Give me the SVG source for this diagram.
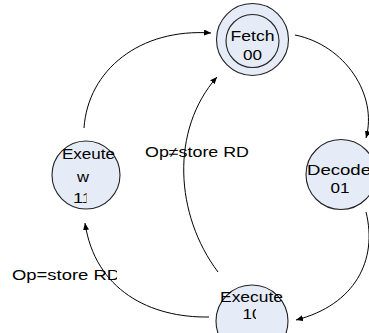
<svg xmlns="http://www.w3.org/2000/svg" width="369" height="333" viewBox="0 0 369 333">
  <style>
    .state { fill: #e6ecf7; stroke: #222; stroke-width: 1.1; }
    .ring { fill: none; stroke: #222; stroke-width: 1.1; }
    .lbl { font-family: "Liberation Sans", Arial, sans-serif; font-size: 14px; fill: #000; }
    .edge { fill: none; stroke: #000; stroke-width: 1; }
  </style>
  <defs>
    <marker id="arrow" markerUnits="userSpaceOnUse" markerWidth="8" markerHeight="6" refX="7" refY="3" orient="auto">
      <path d="M0,0 L7,3 L0,6 z" fill="#000"/>
    </marker>
    <clipPath id="clipW"><rect x="0" y="185" width="86.5" height="25"/></clipPath>
    <clipPath id="clipX"><rect x="200" y="300" width="56" height="30"/></clipPath>
    <clipPath id="clipEq"><rect x="0" y="260" width="117" height="30"/></clipPath>
  </defs>

  <g id="connectors">
    <path class="edge" d="M84,128 C88,70 140,28 211,33" marker-end="url(#arrow)"/>
    <path class="edge" d="M295,35 C345,45 378,95 366,138" marker-end="url(#arrow)"/>
    <path class="edge" d="M366,212 C378,260 355,305 296,320" marker-end="url(#arrow)"/>
    <path class="edge" d="M209,317 C150,318 95,290 85,223" marker-end="url(#arrow)"/>
    <path class="edge" d="M218,272 C175,215 170,130 217,77" marker-end="url(#arrow)"/>
  </g>

  <g id="fetch">
    <circle class="state" cx="252.5" cy="39.5" r="36"/>
    <circle class="ring" cx="252.5" cy="41" r="26.5"/>
    <text class="lbl" x="230.5" y="41" textLength="44" lengthAdjust="spacingAndGlyphs">Fetch</text>
    <text class="lbl" x="243" y="60" textLength="19" lengthAdjust="spacingAndGlyphs">00</text>
  </g>

  <g id="decode">
    <circle class="state" cx="341" cy="174.5" r="35"/>
    <text class="lbl" x="307" y="175" textLength="64" lengthAdjust="spacingAndGlyphs">Decode</text>
    <text class="lbl" x="330.5" y="193" textLength="19" lengthAdjust="spacingAndGlyphs">01</text>
  </g>

  <g id="execute">
    <circle class="state" cx="252" cy="321" r="36"/>
    <text class="lbl" x="220" y="302" textLength="63" lengthAdjust="spacingAndGlyphs">Execute</text>
    <g clip-path="url(#clipX)">
      <text class="lbl" x="242.5" y="319" textLength="19" lengthAdjust="spacingAndGlyphs">10</text>
    </g>
  </g>

  <g id="execute-w">
    <circle class="state" cx="86" cy="175" r="34"/>
    <text class="lbl" x="62" y="159" textLength="53" lengthAdjust="spacingAndGlyphs">Exeute</text>
    <text class="lbl" x="77" y="182" textLength="12" lengthAdjust="spacingAndGlyphs">w</text>
    <g clip-path="url(#clipW)">
      <text class="lbl" x="73" y="203" textLength="19" lengthAdjust="spacingAndGlyphs">11</text>
    </g>
  </g>

  <g id="labels">
    <text class="lbl" x="145" y="157" textLength="104" lengthAdjust="spacingAndGlyphs">Op≠store RD</text>
    <g clip-path="url(#clipEq)">
      <text class="lbl" x="12" y="280" textLength="108" lengthAdjust="spacingAndGlyphs">Op=store RD</text>
    </g>
  </g>
</svg>
